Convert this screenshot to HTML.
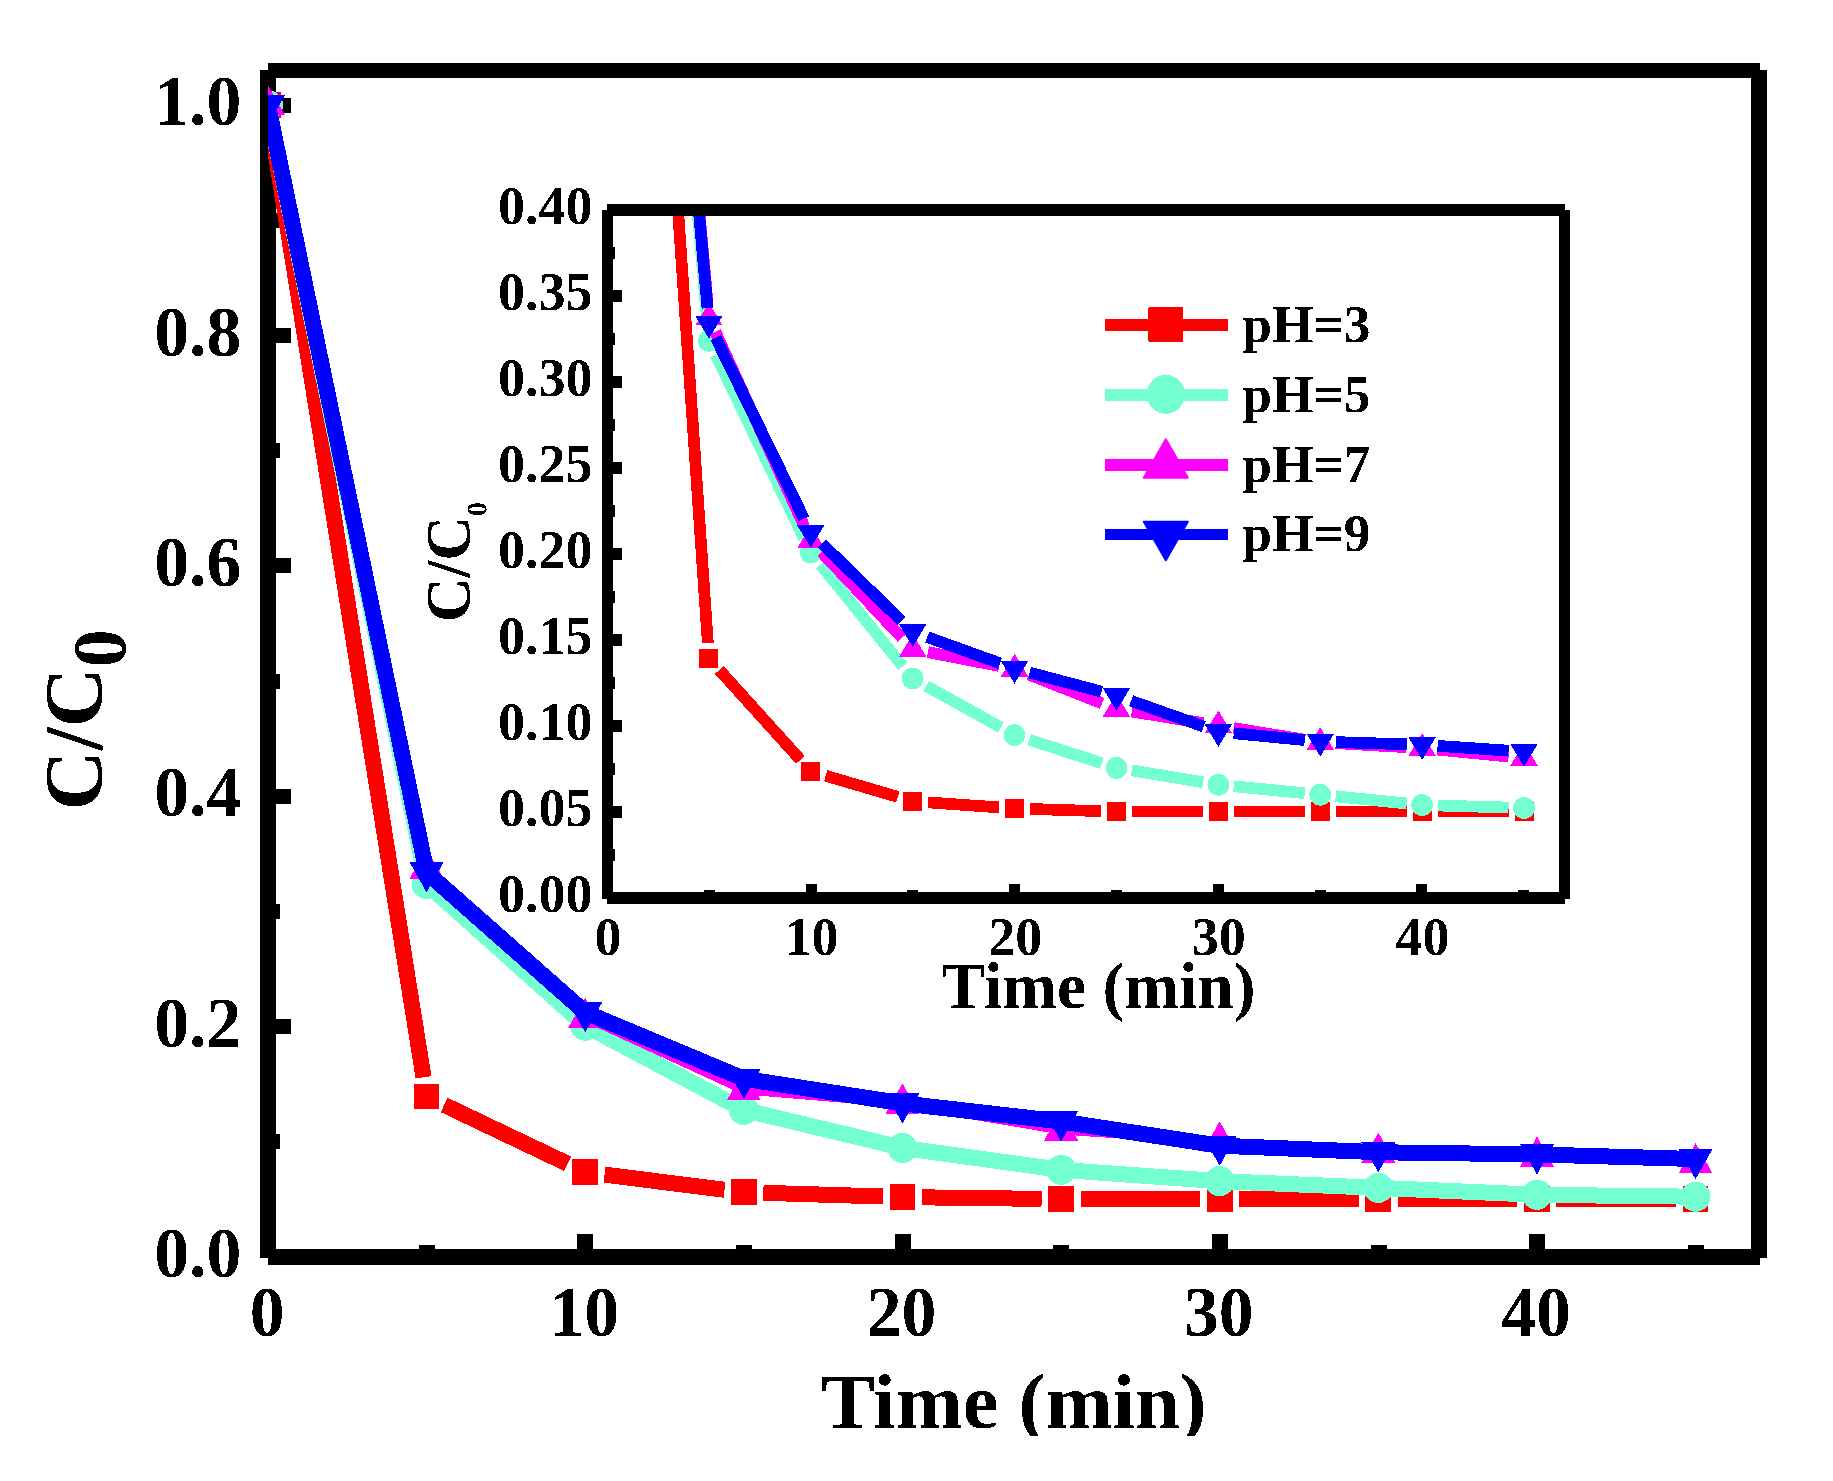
<!DOCTYPE html>
<html lang="en"><head><meta charset="utf-8"><title>C/C0 vs Time at different pH</title>
<style>html,body{margin:0;padding:0;background:#fff}body{width:1833px;height:1481px;overflow:hidden}svg{display:block}text{font-family:"Liberation Serif", serif;font-weight:bold;fill:#000;filter:url(#bin)}</style></head><body>
<svg width="1833" height="1481" viewBox="0 0 1833 1481" shape-rendering="crispEdges">
<defs><filter id="bin" x="-5%" y="-5%" width="110%" height="110%" color-interpolation-filters="sRGB"><feComponentTransfer><feFuncA type="discrete" tableValues="0 1"/></feComponentTransfer></filter></defs>
<rect width="1833" height="1481" fill="#fff"/>
<g fill="#000">
<rect x="260" y="70" width="16" height="1188"/>
<rect x="1751" y="70" width="16" height="1188"/>
<rect x="268" y="63" width="1492" height="15"/>
<rect x="268" y="1249" width="1492" height="16"/>
<rect x="268" y="1019" width="23" height="15"/>
<rect x="268" y="789" width="23" height="15"/>
<rect x="268" y="558" width="23" height="15"/>
<rect x="268" y="328" width="23" height="15"/>
<rect x="268" y="98" width="23" height="15"/>
<rect x="268" y="1134" width="12" height="15"/>
<rect x="268" y="904" width="12" height="15"/>
<rect x="268" y="674" width="12" height="15"/>
<rect x="268" y="443" width="12" height="15"/>
<rect x="268" y="213" width="12" height="15"/>
<rect x="260" y="1234" width="15.5" height="23"/>
<rect x="577" y="1234" width="15.5" height="23"/>
<rect x="895" y="1234" width="15.5" height="23"/>
<rect x="1212" y="1234" width="15.5" height="23"/>
<rect x="1529" y="1234" width="15.5" height="23"/>
<rect x="419" y="1245" width="15.5" height="12"/>
<rect x="736" y="1245" width="15.5" height="12"/>
<rect x="1053" y="1245" width="15.5" height="12"/>
<rect x="1371" y="1245" width="15.5" height="12"/>
<rect x="1688" y="1245" width="15.5" height="12"/>
</g>
<clipPath id="clipM"><rect x="268" y="70.5" width="1491" height="1186.5"/></clipPath>
<g clip-path="url(#clipM)">
<path d="M271.08 124.46L423.54 1077.33M444.22 1104.98L567.63 1163.79M604.58 1174.63L724.51 1189.79M763.34 1192.83L882.98 1196.48M921.97 1197.33L1041.59 1198.89M1080.59 1199.13L1200.2 1199.04M1239.2 1199.03L1358.82 1199.03M1397.82 1199.03L1517.44 1199.03M1556.44 1199.03L1676.05 1199.03" fill="none" stroke="#FF0000" stroke-width="16"/>
<rect x="255.15" y="92.35" width="25.7" height="25.7" fill="#FF0000"/>
<rect x="413.77" y="1083.74" width="25.7" height="25.7" fill="#FF0000"/>
<rect x="572.38" y="1159.33" width="25.7" height="25.7" fill="#FF0000"/>
<rect x="731" y="1179.38" width="25.7" height="25.7" fill="#FF0000"/>
<rect x="889.62" y="1184.22" width="25.7" height="25.7" fill="#FF0000"/>
<rect x="1048.24" y="1186.3" width="25.7" height="25.7" fill="#FF0000"/>
<rect x="1206.85" y="1186.18" width="25.7" height="25.7" fill="#FF0000"/>
<rect x="1365.47" y="1186.18" width="25.7" height="25.7" fill="#FF0000"/>
<rect x="1524.09" y="1186.18" width="25.7" height="25.7" fill="#FF0000"/>
<rect x="1682.7" y="1186.18" width="25.7" height="25.7" fill="#FF0000"/>
<polyline points="268,105.2 426.62,883.87 585.23,1025.72 743.85,1109.95 902.47,1147.87 1061.09,1169.88 1219.7,1181.17 1378.32,1187.85 1536.94,1194.77 1695.55,1196.73" fill="none" stroke="#74FFD2" stroke-width="16" stroke-linejoin="round"/>
<circle cx="268" cy="105.2" r="15" fill="#74FFD2"/>
<circle cx="426.62" cy="883.87" r="15" fill="#74FFD2"/>
<circle cx="585.23" cy="1025.72" r="15" fill="#74FFD2"/>
<circle cx="743.85" cy="1109.95" r="15" fill="#74FFD2"/>
<circle cx="902.47" cy="1147.87" r="15" fill="#74FFD2"/>
<circle cx="1061.09" cy="1169.88" r="15" fill="#74FFD2"/>
<circle cx="1219.7" cy="1181.17" r="15" fill="#74FFD2"/>
<circle cx="1378.32" cy="1187.85" r="15" fill="#74FFD2"/>
<circle cx="1536.94" cy="1194.77" r="15" fill="#74FFD2"/>
<circle cx="1695.55" cy="1196.73" r="15" fill="#74FFD2"/>
<polyline points="268,105.2 426.62,868.43 585.23,1017.66 743.85,1090.37 902.47,1103.61 1061.09,1130.46 1219.7,1141.53 1378.32,1152.7 1536.94,1156.62 1695.55,1163.3" fill="none" stroke="#FF00FF" stroke-width="8" stroke-linejoin="round"/>
<polygon points="268,85.07 285,115.27 251,115.27" fill="#FF00FF"/>
<polygon points="426.62,848.3 443.62,878.5 409.62,878.5" fill="#FF00FF"/>
<polygon points="585.23,997.52 602.23,1027.72 568.23,1027.72" fill="#FF00FF"/>
<polygon points="743.85,1070.24 760.85,1100.44 726.85,1100.44" fill="#FF00FF"/>
<polygon points="902.47,1083.48 919.47,1113.68 885.47,1113.68" fill="#FF00FF"/>
<polygon points="1061.09,1110.33 1078.09,1140.53 1044.09,1140.53" fill="#FF00FF"/>
<polygon points="1219.7,1121.4 1236.7,1151.6 1202.7,1151.6" fill="#FF00FF"/>
<polygon points="1378.32,1132.57 1395.32,1162.77 1361.32,1162.77" fill="#FF00FF"/>
<polygon points="1536.94,1136.49 1553.94,1166.69 1519.94,1166.69" fill="#FF00FF"/>
<polygon points="1695.55,1143.17 1712.55,1173.37 1678.55,1173.37" fill="#FF00FF"/>
<polyline points="268,105.2 426.62,872.34 585.23,1012.36 743.85,1078.72 902.47,1103.38 1061.09,1121.48 1219.7,1145.68 1378.32,1152.24 1536.94,1154.43 1695.55,1159.04" fill="none" stroke="#0000FF" stroke-width="16" stroke-linejoin="round"/>
<polygon points="268,125.33 285,95.13 251,95.13" fill="#0000FF"/>
<polygon points="426.62,892.48 443.62,862.28 409.62,862.28" fill="#0000FF"/>
<polygon points="585.23,1032.49 602.23,1002.29 568.23,1002.29" fill="#0000FF"/>
<polygon points="743.85,1098.86 760.85,1068.66 726.85,1068.66" fill="#0000FF"/>
<polygon points="902.47,1123.52 919.47,1093.32 885.47,1093.32" fill="#0000FF"/>
<polygon points="1061.09,1141.61 1078.09,1111.41 1044.09,1111.41" fill="#0000FF"/>
<polygon points="1219.7,1165.81 1236.7,1135.61 1202.7,1135.61" fill="#0000FF"/>
<polygon points="1378.32,1172.38 1395.32,1142.18 1361.32,1142.18" fill="#0000FF"/>
<polygon points="1536.94,1174.57 1553.94,1144.37 1519.94,1144.37" fill="#0000FF"/>
<polygon points="1695.55,1179.17 1712.55,1148.97 1678.55,1148.97" fill="#0000FF"/>
</g>
<g font-size="72">
<text transform="translate(241.3 1277.2) scale(0.967 1)" text-anchor="end">0.0</text>
<text transform="translate(241.3 1046.84) scale(0.967 1)" text-anchor="end">0.2</text>
<text transform="translate(241.3 816.48) scale(0.967 1)" text-anchor="end">0.4</text>
<text transform="translate(241.3 586.12) scale(0.967 1)" text-anchor="end">0.6</text>
<text transform="translate(241.3 355.76) scale(0.967 1)" text-anchor="end">0.8</text>
<text transform="translate(241.3 125.4) scale(0.967 1)" text-anchor="end">1.0</text>
<text transform="translate(267.1 1336.4) scale(0.967 1)" text-anchor="middle">0</text>
<text transform="translate(584.33 1336.4) scale(0.967 1)" text-anchor="middle">10</text>
<text transform="translate(901.57 1336.4) scale(0.967 1)" text-anchor="middle">20</text>
<text transform="translate(1218.8 1336.4) scale(0.967 1)" text-anchor="middle">30</text>
<text transform="translate(1536.04 1336.4) scale(0.967 1)" text-anchor="middle">40</text>
</g>
<clipPath id="clipT"><rect x="800" y="1350" width="430" height="86"/></clipPath>
<g clip-path="url(#clipT)"><text x="821" y="1427.6" font-size="78.5" textLength="385.5" lengthAdjust="spacingAndGlyphs">Time (min)</text></g>
<text transform="translate(101.3 810.4) rotate(-90)" font-size="83">C/C<tspan font-size="76" dy="24.1">0</tspan></text>
<clipPath id="clipI"><rect x="607.5" y="210" width="957" height="688"/></clipPath>
<g clip-path="url(#clipI)">
<path d="M608.06 -806.54L707.83 642.99M719.28 669.96L800.4 759.83M825.66 775.71L897.81 796.91M928.14 802.38L999.11 807.41M1030.07 808.98L1100.98 811.13M1131.97 811.58L1202.86 811.46M1233.86 811.43L1304.76 811.43M1335.76 811.43L1406.65 811.43M1437.65 811.43L1508.54 811.43" fill="none" stroke="#FF0000" stroke-width="11.7"/>
<rect x="597.5" y="-831.5" width="19" height="19" fill="#FF0000"/>
<rect x="699.39" y="648.96" width="19" height="19" fill="#FF0000"/>
<rect x="801.29" y="761.84" width="19" height="19" fill="#FF0000"/>
<rect x="903.18" y="791.78" width="19" height="19" fill="#FF0000"/>
<rect x="1005.07" y="799.01" width="19" height="19" fill="#FF0000"/>
<rect x="1106.97" y="802.1" width="19" height="19" fill="#FF0000"/>
<rect x="1208.86" y="801.93" width="19" height="19" fill="#FF0000"/>
<rect x="1310.76" y="801.93" width="19" height="19" fill="#FF0000"/>
<rect x="1412.65" y="801.93" width="19" height="19" fill="#FF0000"/>
<rect x="1514.54" y="801.93" width="19" height="19" fill="#FF0000"/>
<path d="M608.35 -806.56L707.54 325.37M715.61 354.77L804.07 538.66M820.54 564.67L902.92 666.36M926.23 685.94L1001.03 727.5M1029.33 739.79L1101.72 763.14M1131.76 770.43L1203.07 782.23M1233.79 786.27L1304.83 793.22M1335.68 796.3L1406.73 803.5M1437.64 805.51L1508.55 807.55" fill="none" stroke="#74FFD2" stroke-width="11.7"/>
<circle cx="607" cy="-822" r="10.9" fill="#74FFD2"/>
<circle cx="708.89" cy="340.81" r="10.9" fill="#74FFD2"/>
<circle cx="810.79" cy="552.62" r="10.9" fill="#74FFD2"/>
<circle cx="912.68" cy="678.41" r="10.9" fill="#74FFD2"/>
<circle cx="1014.57" cy="735.03" r="10.9" fill="#74FFD2"/>
<circle cx="1116.47" cy="767.9" r="10.9" fill="#74FFD2"/>
<circle cx="1218.36" cy="784.76" r="10.9" fill="#74FFD2"/>
<circle cx="1320.26" cy="794.73" r="10.9" fill="#74FFD2"/>
<circle cx="1422.15" cy="805.07" r="10.9" fill="#74FFD2"/>
<circle cx="1524.04" cy="807.99" r="10.9" fill="#74FFD2"/>
<path d="M608.38 -806.56L707.51 302.3M715.34 331.84L804.34 526.49M821.39 551.89L902.07 637.86M927.9 652.12L999.36 665.99M1029 674.62L1102.04 703.37M1131.77 711.52L1203.06 723.09M1233.66 728.07L1304.96 739.75M1335.73 743.14L1406.67 747.21M1437.58 749.61L1508.62 756.57" fill="none" stroke="#FF00FF" stroke-width="11.7"/>
<polygon points="607,-837.13 620.65,-814.43 593.35,-814.43" fill="#FF00FF"/>
<polygon points="708.89,302.61 722.54,325.31 695.24,325.31" fill="#FF00FF"/>
<polygon points="810.79,525.45 824.44,548.15 797.14,548.15" fill="#FF00FF"/>
<polygon points="912.68,634.03 926.33,656.73 899.03,656.73" fill="#FF00FF"/>
<polygon points="1014.57,653.81 1028.22,676.51 1000.92,676.51" fill="#FF00FF"/>
<polygon points="1116.47,693.91 1130.12,716.61 1102.82,716.61" fill="#FF00FF"/>
<polygon points="1218.36,710.44 1232.01,733.14 1204.71,733.14" fill="#FF00FF"/>
<polygon points="1320.26,727.12 1333.91,749.82 1306.61,749.82" fill="#FF00FF"/>
<polygon points="1422.15,732.97 1435.8,755.67 1408.5,755.67" fill="#FF00FF"/>
<polygon points="1524.04,742.94 1537.69,765.64 1510.39,765.64" fill="#FF00FF"/>
<path d="M608.37 -806.56L707.52 308.15M715.68 337.52L804 518.74M821.9 543.48L901.57 620.97M927.26 637.05L1000 663.34M1029.56 672.58L1101.49 691.65M1131.08 700.81L1203.75 726.58M1233.79 733.25L1304.83 740.08M1335.75 742.06L1406.66 744.34M1437.61 745.88L1508.58 750.67" fill="none" stroke="#0000FF" stroke-width="11.7"/>
<polygon points="607,-806.87 620.65,-829.57 593.35,-829.57" fill="#0000FF"/>
<polygon points="708.89,338.72 722.54,316.02 695.24,316.02" fill="#0000FF"/>
<polygon points="810.79,547.81 824.44,525.11 797.14,525.11" fill="#0000FF"/>
<polygon points="912.68,646.91 926.33,624.21 899.03,624.21" fill="#0000FF"/>
<polygon points="1014.57,683.74 1028.22,661.04 1000.92,661.04" fill="#0000FF"/>
<polygon points="1116.47,710.76 1130.12,688.06 1102.82,688.06" fill="#0000FF"/>
<polygon points="1218.36,746.9 1232.01,724.2 1204.71,724.2" fill="#0000FF"/>
<polygon points="1320.26,756.7 1333.91,734 1306.61,734" fill="#0000FF"/>
<polygon points="1422.15,759.97 1435.8,737.27 1408.5,737.27" fill="#0000FF"/>
<polygon points="1524.04,766.85 1537.69,744.15 1510.39,744.15" fill="#0000FF"/>
</g>
<g fill="#000">
<rect x="602" y="210" width="11" height="689"/>
<rect x="1559" y="210" width="11" height="689"/>
<rect x="607" y="204" width="958" height="12"/>
<rect x="607" y="892" width="958" height="12"/>
<rect x="607.5" y="806" width="14.5" height="12"/>
<rect x="607.5" y="720" width="14.5" height="12"/>
<rect x="607.5" y="634" width="14.5" height="12"/>
<rect x="607.5" y="548" width="14.5" height="12"/>
<rect x="607.5" y="462" width="14.5" height="12"/>
<rect x="607.5" y="376" width="14.5" height="12"/>
<rect x="607.5" y="290" width="14.5" height="12"/>
<rect x="607.5" y="849" width="7.5" height="12"/>
<rect x="607.5" y="763" width="7.5" height="12"/>
<rect x="607.5" y="677" width="7.5" height="12"/>
<rect x="607.5" y="591" width="7.5" height="12"/>
<rect x="607.5" y="505" width="7.5" height="12"/>
<rect x="607.5" y="419" width="7.5" height="12"/>
<rect x="607.5" y="333" width="7.5" height="12"/>
<rect x="607.5" y="247" width="7.5" height="12"/>
<rect x="602" y="884" width="11" height="14"/>
<rect x="806" y="884" width="11" height="14"/>
<rect x="1009" y="884" width="11" height="14"/>
<rect x="1213" y="884" width="11" height="14"/>
<rect x="1416" y="884" width="11" height="14"/>
<rect x="704" y="890" width="11" height="8"/>
<rect x="907" y="890" width="11" height="8"/>
<rect x="1111" y="890" width="11" height="8"/>
<rect x="1315" y="890" width="11" height="8"/>
<rect x="1518" y="890" width="11" height="8"/>
</g>
<g font-size="54">
<text x="592.5" y="912.2" text-anchor="end">0.00</text>
<text x="592.5" y="826.2" text-anchor="end">0.05</text>
<text x="592.5" y="740.2" text-anchor="end">0.10</text>
<text x="592.5" y="654.2" text-anchor="end">0.15</text>
<text x="592.5" y="568.2" text-anchor="end">0.20</text>
<text x="592.5" y="482.2" text-anchor="end">0.25</text>
<text x="592.5" y="396.2" text-anchor="end">0.30</text>
<text x="592.5" y="310.2" text-anchor="end">0.35</text>
<text x="592.5" y="224.2" text-anchor="end">0.40</text>
<text x="608" y="955" text-anchor="middle">0</text>
<text x="811.62" y="955" text-anchor="middle">10</text>
<text x="1015.23" y="955" text-anchor="middle">20</text>
<text x="1218.85" y="955" text-anchor="middle">30</text>
<text x="1422.47" y="955" text-anchor="middle">40</text>
</g>
<text x="941.5" y="1008" font-size="65.5" textLength="314" lengthAdjust="spacingAndGlyphs">Time (min)</text>
<text transform="translate(469.6 622.2) rotate(-90) scale(0.978 1)" font-size="63">C/C<tspan font-size="28.5" dy="17.2">0</tspan></text>
<rect x="1104.7" y="319.15" width="123.1" height="11.5" fill="#FF0000"/>
<rect x="1148.45" y="307.15" width="34.7" height="34.7" fill="#FF0000" rx="1.5"/>
<text x="1242.3" y="341.5" font-size="53.3">pH=3</text>
<rect x="1104.7" y="389.35" width="123.1" height="11.5" fill="#74FFD2"/>
<ellipse cx="1165.8" cy="394.3" rx="19" ry="19.5" fill="#74FFD2"/>
<text x="1242.3" y="411.7" font-size="53.3">pH=5</text>
<rect x="1104.7" y="459.25" width="123.1" height="11.5" fill="#FF00FF"/>
<polygon points="1165.8,439.33 1187.8,477.83 1143.8,477.83" fill="#FF00FF" stroke="#FF00FF" stroke-width="2" stroke-linejoin="round" shape-rendering="geometricPrecision"/>
<text x="1242.3" y="481.6" font-size="53.3">pH=7</text>
<rect x="1104.7" y="528.75" width="123.1" height="11.5" fill="#0000FF"/>
<polygon points="1165.8,560.17 1187.8,521.67 1143.8,521.67" fill="#0000FF" stroke="#0000FF" stroke-width="2" stroke-linejoin="round" shape-rendering="geometricPrecision"/>
<text x="1242.3" y="551.1" font-size="53.3">pH=9</text>
</svg></body></html>
